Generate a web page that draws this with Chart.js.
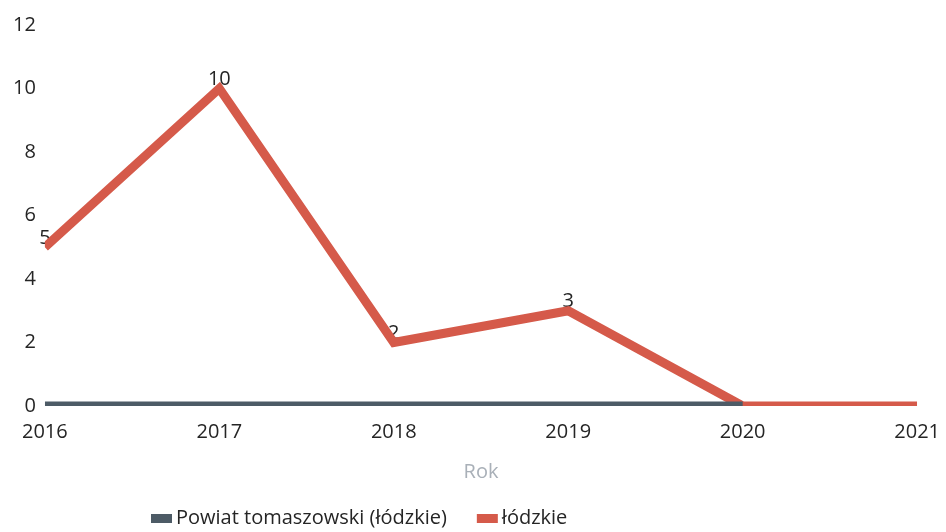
<!DOCTYPE html>
<html>
<head>
<meta charset="utf-8">
<script src="https://cdn.jsdelivr.net/npm/chart.js@4.4.0/dist/chart.umd.min.js"></script>
<style>
  body { margin: 0; background: #fff; }
  #wrap { width: 946px; height: 532px; position: relative; }
</style>
</head>
<body>
<div id="wrap"><canvas id="rokChart"></canvas></div>
<script>
// Data
const years = ['2016', '2017', '2018', '2019', '2020', '2021'];
const powiatValues = [0, 0, 0, 0, 0, null];
const lodzkieValues = [5, 10, 2, 3, 0, 0];
const yTicks = [0, 2, 4, 6, 8, 10, 12];

const darkColor = '#4d5b66';
const redColor = '#d55a4a';
const textColor = '#252525';

// value labels on the red line (drawn under the line)
const valueLabels = {
    id: 'valueLabels',
    beforeDatasetsDraw(chart) {
        const ctx = chart.ctx;
        const meta = chart.getDatasetMeta(1);
        ctx.save();
        ctx.font = '20px "Open Sans"';
        ctx.fillStyle = textColor;
        ctx.textAlign = 'center';
        ctx.textBaseline = 'middle';
        meta.data.forEach((pt, i) => {
            const v = lodzkieValues[i];
            if (!v) return;
            ctx.fillText(String(v), pt.x, pt.y - 9);
        });
        ctx.restore();
    }
};

// simple legend drawn at the bottom
const bottomLegend = {
    id: 'bottomLegend',
    afterDraw(chart) {
        const ctx = chart.ctx;
        ctx.save();
        ctx.font = '20px "Open Sans"';
        ctx.textBaseline = 'middle';
        let x = 151;
        const y = 518;
        chart.data.datasets.forEach(ds => {
            ctx.fillStyle = ds.borderColor;
            ctx.fillRect(x, y - 4, 21, 9);
            x += 25;
            ctx.fillStyle = textColor;
            ctx.fillText(ds.label, x, y);
            x += ctx.measureText(ds.label).width + 30;
        });
        ctx.restore();
    }
};

new Chart(document.getElementById('rokChart'), {
    type: 'line',
    data: {
        labels: years,
        datasets: [{
            label: 'Powiat tomaszowski (łódzkie)',
            data: powiatValues,
            borderColor: darkColor,
            backgroundColor: darkColor,
            borderWidth: 9,
            pointRadius: 0,
            clip: 0
        }, {
            label: 'łódzkie',
            data: lodzkieValues,
            borderColor: redColor,
            backgroundColor: redColor,
            borderWidth: 9,
            borderJoinStyle: 'miter',
            pointRadius: 0,
            clip: 0
        }]
    },
    options: {
        responsive: true,
        maintainAspectRatio: false,
        animation: false,
        layout: { padding: { left: 4, right: 26, top: 25, bottom: 44 } },
        plugins: {
            legend: { display: false },
            tooltip: { enabled: false }
        },
        scales: {
            x: {
                offset: false,
                grid: { display: false },
                border: { display: false },
                ticks: { color: textColor, font: { family: 'Open Sans', size: 20 }, padding: 6, maxRotation: 0 },
                title: { display: true, text: 'Rok', color: '#a9b0b8', font: { family: 'Open Sans', size: 20 }, padding: { top: 10 } }
            },
            y: {
                min: 0,
                max: 12,
                afterBuildTicks(axis) { axis.ticks = yTicks.map(v => ({ value: v })); },
                grid: { display: false, drawTicks: false },
                border: { display: false },
                ticks: { color: textColor, font: { family: 'Open Sans', size: 20 }, padding: 9 }
            }
        }
    },
    plugins: [valueLabels, bottomLegend]
});
</script>
</body>
</html>
